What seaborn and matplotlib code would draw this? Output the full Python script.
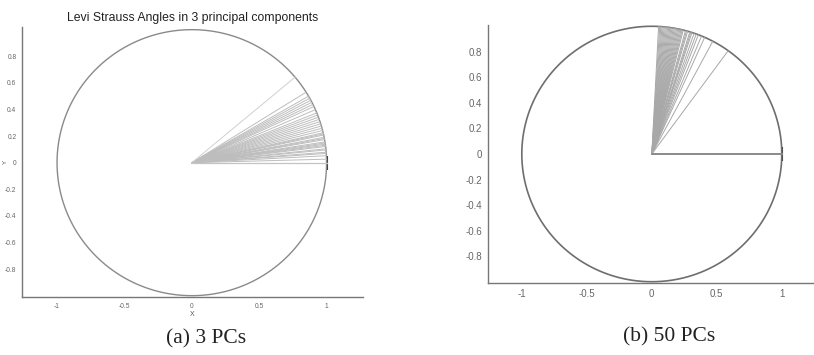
import numpy as np
import pandas as pd
import matplotlib
matplotlib.use("Agg")
import matplotlib.pyplot as plt
import seaborn as sns

sns.set_style("white")
plt.rcParams['font.family'] = ['Liberation Sans', 'DejaVu Sans']

# ---- data: ray angles (degrees) ----
angles_3pc = [0, 1.5, 3, 4, 4.5, 5.5, 6, 7, 7.5, 8, 8.5, 9, 10, 10.5, 11, 12,
              12.5, 13, 14, 15, 16, 17, 18, 19, 20, 21, 22, 23.5, 25, 26, 27,
              28, 29, 30, 32]
outlier_3pc = [40]
angles_50pc = [54, 62, 66, 67.5, 69, 70, 71, 72, 72.5, 73, 74, 74.5, 75, 76,
               76.5, 77, 77.5, 78, 78.5, 79, 79.5, 80, 80.5, 81, 81.5, 82, 82.5,
               83, 83.5, 84, 84.5, 85, 85.5, 86, 86.5, 87]
reference_angle = [0]

x_ticks = [-1, -0.5, 0, 0.5, 1]
x_tick_labels = ["-1", "-0.5", "0", "0.5", "1"]
y_ticks = [-0.8, -0.6, -0.4, -0.2, 0, 0.2, 0.4, 0.6, 0.8]
y_tick_labels = ["-0.8", "-0.6", "-0.4", "-0.2", "0", "0.2", "0.4", "0.6", "0.8"]

title_a = "Levi Strauss Angles in 3 principal components"
caption_a = "(a) 3 PCs"
caption_b = "(b) 50 PCs"


def rays_frame(angles):
    rows = []
    for i, a in enumerate(angles):
        r = np.deg2rad(a)
        rows.append({"ray": i, "x": 0.0, "y": 0.0})
        rows.append({"ray": i, "x": np.cos(r), "y": np.sin(r)})
    return pd.DataFrame(rows)


t = np.linspace(0, 2 * np.pi, 361)
circle = pd.DataFrame({"x": np.cos(t), "y": np.sin(t), "i": np.arange(len(t))})

fig = plt.figure(figsize=(8.14, 3.55), dpi=100)
axA = fig.add_axes([22 / 814, 1 - 297 / 355, (363 - 22) / 814, (297 - 27) / 355])
axB = fig.add_axes([488 / 814, 1 - 283 / 355, (813 - 488) / 814, (283 - 25) / 355])


def draw(ax, angles, ray_color, ray_lw, circ_color, circ_lw, ref_color, ref_lw,
         tick_size, extra=None):
    sns.lineplot(data=circle, x="x", y="y", sort=False, estimator=None,
                 color=circ_color, lw=circ_lw, ax=ax)
    sns.lineplot(data=rays_frame(angles), x="x", y="y", units="ray",
                 estimator=None, sort=False, color=ray_color, lw=ray_lw, ax=ax)
    if extra is not None:
        sns.lineplot(data=rays_frame(extra), x="x", y="y", units="ray",
                     estimator=None, sort=False, color="#d0d0d0", lw=ray_lw, ax=ax)
    sns.lineplot(data=rays_frame(reference_angle), x="x", y="y", units="ray",
                 estimator=None, sort=False, color=ref_color, lw=ref_lw, ax=ax)
    ref = rays_frame(reference_angle).iloc[[1]]
    sns.scatterplot(data=ref, x="x", y="y", marker="|", s=110, color="#333333",
                    linewidth=1.5, ax=ax)
    ax.set_xticks(x_ticks)
    ax.set_xticklabels(x_tick_labels)
    ax.set_yticks(y_ticks)
    ax.set_yticklabels(y_tick_labels)
    for s in ["top", "right"]:
        ax.spines[s].set_visible(False)
    for s in ["left", "bottom"]:
        ax.spines[s].set_color("#777777")
        ax.spines[s].set_linewidth(1.0)
    ax.tick_params(direction="inout", length=4, width=0.8, color="#777777",
                   labelsize=tick_size, labelcolor="#666666", pad=2)


draw(axA, angles_3pc, "#bdbdbd", 0.7, "#8a8a8a", 1.0, "#c4c4c4", 0.9, 4.8,
     extra=outlier_3pc)
axA.set_xlim(-1.26, 1.27)
axA.set_ylim(-1.01, 1.02)
axA.set_xlabel("X", fontsize=5, color="#555555", labelpad=1)
axA.set_ylabel("Y", fontsize=4.5, color="#555555")
axA.yaxis.set_label_coords(-0.042, 0.5)
axA.set_title(title_a, fontsize=8.8, color="#222222", pad=4)

draw(axB, angles_50pc, "#a8a8a8", 0.7, "#6e6e6e", 1.2, "#8a8a8a", 1.4, 7)
axB.set_xlim(-1.26, 1.24)
axB.set_ylim(-1.01, 1.01)
axB.set_xlabel("")
axB.set_ylabel("")

fig.text(206 / 814, 1 - 339 / 355, caption_a, ha="center", va="center",
         fontsize=15.5, family=["Liberation Serif"], color="#222222")
fig.text(669 / 814, 1 - 337 / 355, caption_b, ha="center", va="center",
         fontsize=15.5, family=["Liberation Serif"], color="#222222")

fig.savefig("out.png", dpi=100)
